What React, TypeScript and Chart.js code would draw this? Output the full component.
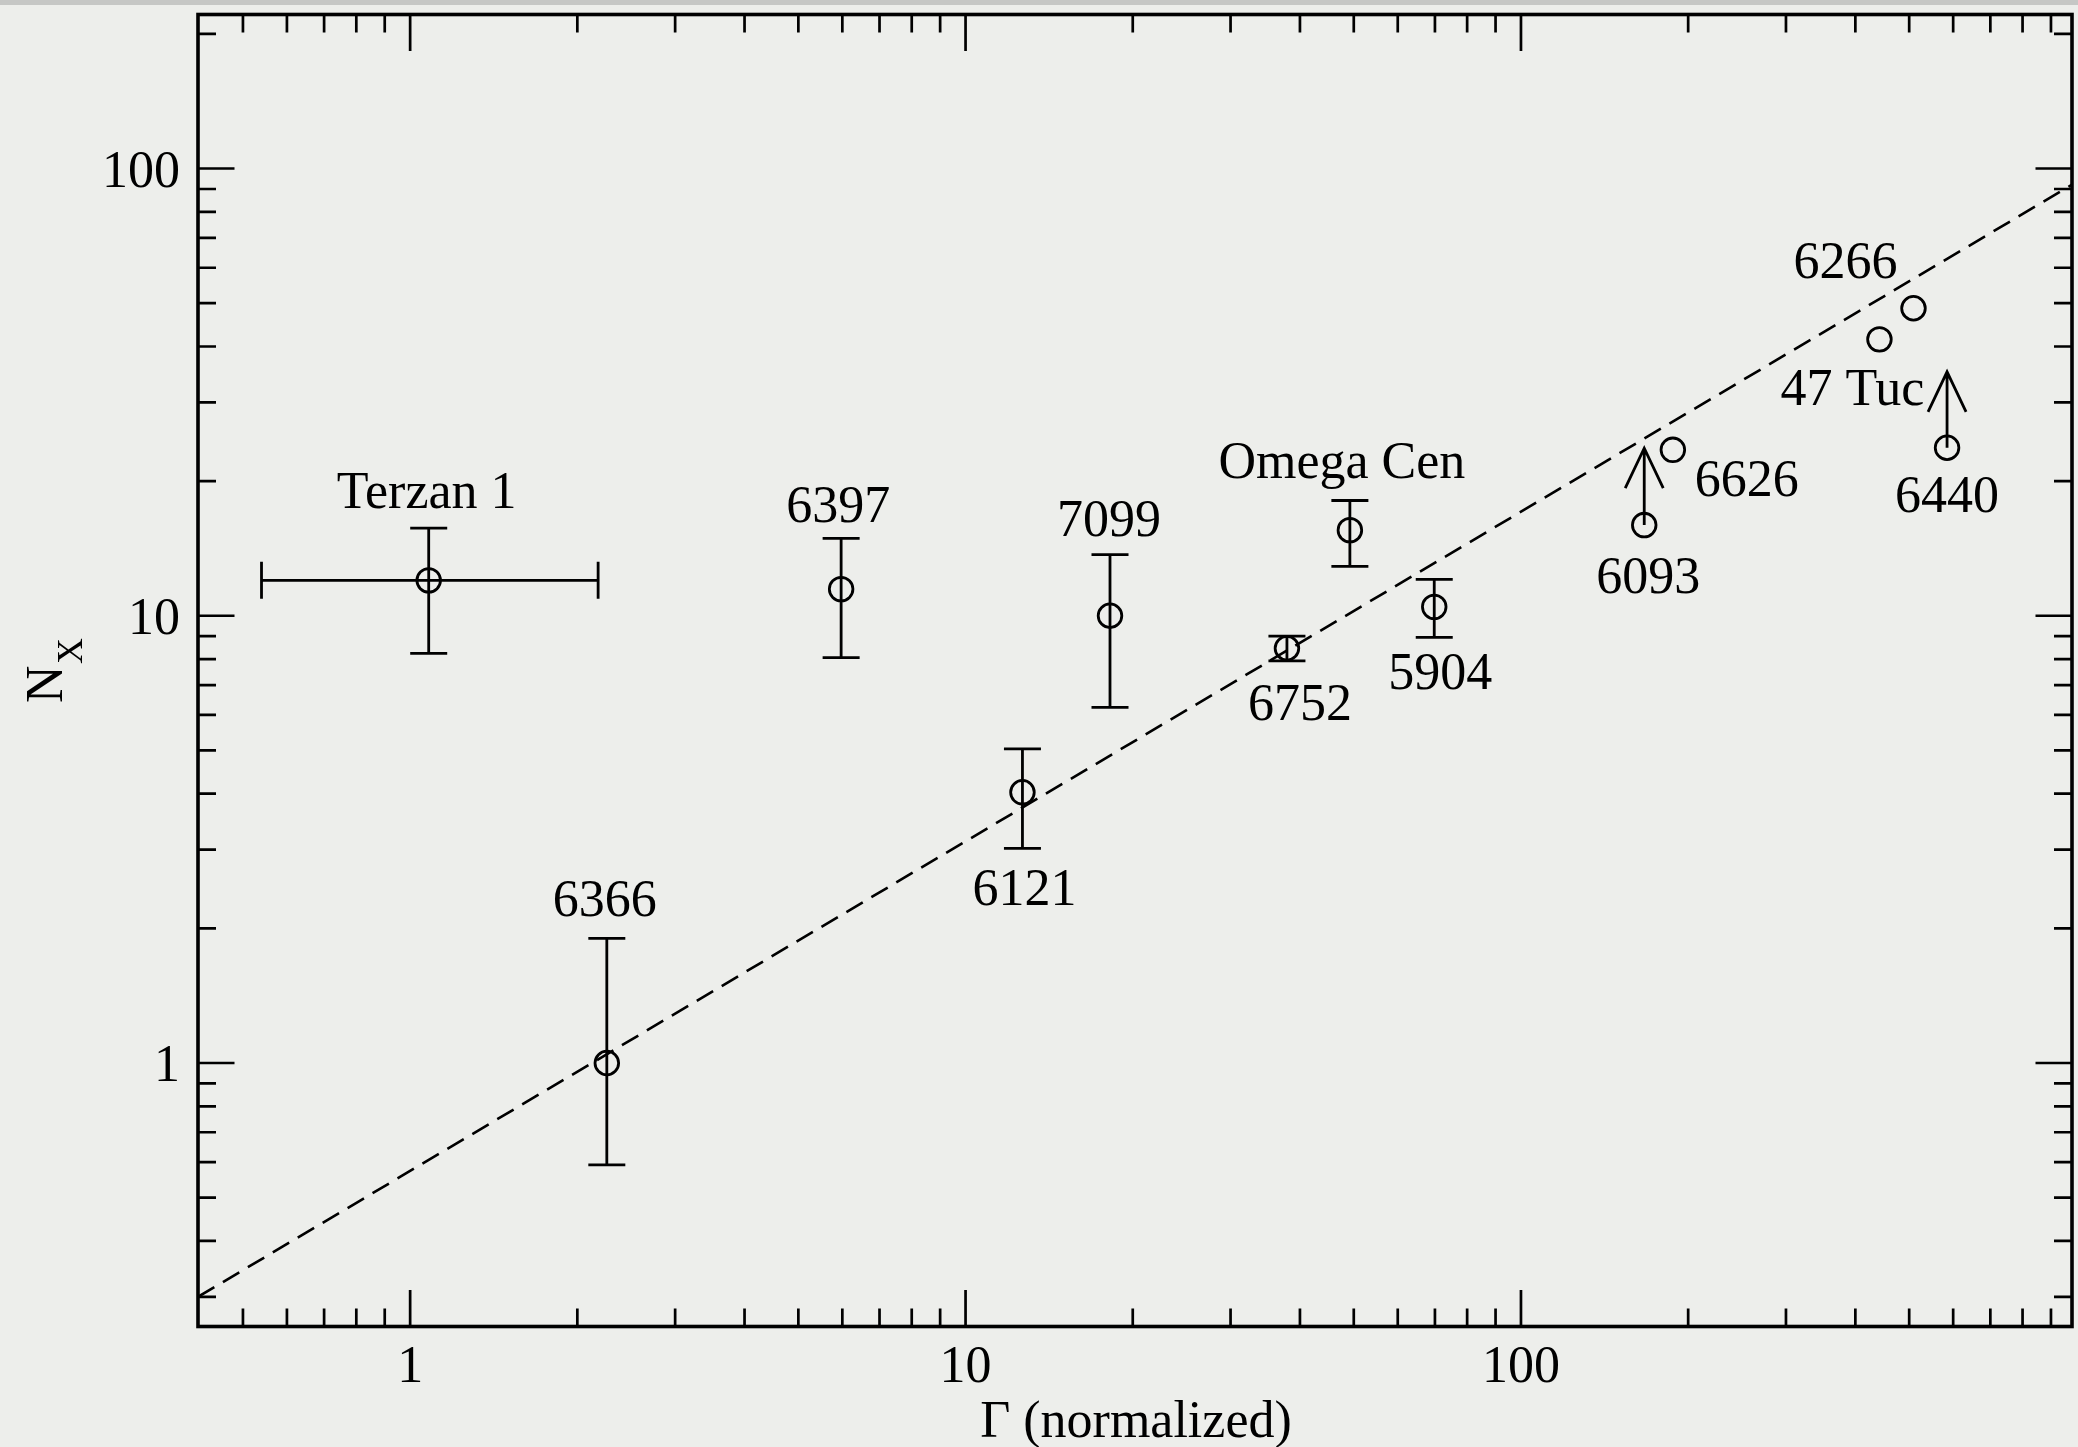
import React, { useEffect, useRef } from 'react';
import { Chart, registerables } from 'chart.js';

Chart.register(...registerables);

// ---------------- data ----------------
const clusterNames = ['Terzan 1', '6366', '6397', '6121', '7099', '6752', 'Omega Cen', '5904', '6093', '6626', '47 Tuc', '6266', '6440'];
const gammaValues = [1.08, 2.26, 5.97, 12.66, 18.2, 37.9, 49.2, 69.8, 166.7, 187.7, 442, 509, 585];
const nxValues = [12.0, 1.0, 11.47, 4.03, 10.0, 8.46, 15.54, 10.47, 15.95, 23.5, 41.5, 48.7, 23.75];
const nxLow = [8.24, 0.592, 8.06, 3.02, 6.24, 7.93, 12.9, 8.95, null, null, null, null, null];
const nxHigh = [15.7, 1.9, 14.9, 5.04, 13.7, 9.0, 18.1, 12.06, null, null, null, null, null];
const gammaLow = [0.54, null, null, null, null, null, null, null, null, null, null, null, null];
const gammaHigh = [2.18, null, null, null, null, null, null, null, null, null, null, null, null];
const lowerLimitTo = [null, null, null, null, null, null, null, null, 23.7, null, null, null, 35.1];

const fitGamma = [0.415, 982];
const fitNx = [0.3, 92];

const xMajorTicks = [1, 10, 100];
const xTickLabels = ['1', '10', '100'];
const yMajorTicks = [1, 10, 100];
const yTickLabels = ['1', '10', '100'];

const xTitle = 'Γ (normalized)';
const yTitleMain = 'N';
const yTitleSub = 'X';

// ---------------- styling / placement ----------------
const W = 2078;
const H = 1447;
const FONT = '"Liberation Serif", "Times New Roman", Times, serif';
const BG = '#edeeeb';
// label offsets (px) relative to the point: [dx, dyToBaseline]
const labelOffsets: [number, number][] = [
  [-2, -72], [-2, -147], [-3, -67], [2, 113], [-1, -80], [13, 72], [-8, -52],
  [6, 82], [4, 68], [74, 46], [-27, 66], [-68, -30], [0, 64],
];

const overlayPlugin = {
  id: 'overlay',
  beforeDraw(chart: any) {
    const ctx = chart.ctx as CanvasRenderingContext2D;
    ctx.save();
    ctx.fillStyle = BG;
    ctx.fillRect(0, 0, W, H);
    ctx.fillStyle = '#c6c7c5';
    ctx.fillRect(0, 0, W, 5);
    ctx.restore();
  },
  afterDatasetsDraw(chart: any) {
    const ctx = chart.ctx as CanvasRenderingContext2D;
    const xs = chart.scales.x;
    const ys = chart.scales.y;
    const { left, right, top, bottom } = chart.chartArea;
    ctx.save();
    ctx.strokeStyle = '#000';
    ctx.fillStyle = '#000';
    ctx.lineCap = 'butt';

    // error bars & limits
    ctx.lineWidth = 2.8;
    const cap = 18.5;
    for (let i = 0; i < clusterNames.length; i++) {
      const px = xs.getPixelForValue(gammaValues[i]);
      const py = ys.getPixelForValue(nxValues[i]);
      const lo = nxLow[i];
      const hi = nxHigh[i];
      if (lo != null && hi != null) {
        const y1 = ys.getPixelForValue(lo);
        const y2 = ys.getPixelForValue(hi);
        ctx.beginPath();
        ctx.moveTo(px, y1); ctx.lineTo(px, y2);
        ctx.moveTo(px - cap, y1); ctx.lineTo(px + cap, y1);
        ctx.moveTo(px - cap, y2); ctx.lineTo(px + cap, y2);
        ctx.stroke();
      }
      const gl = gammaLow[i];
      const gh = gammaHigh[i];
      if (gl != null && gh != null) {
        const x1 = xs.getPixelForValue(gl);
        const x2 = xs.getPixelForValue(gh);
        ctx.beginPath();
        ctx.moveTo(x1, py); ctx.lineTo(x2, py);
        ctx.moveTo(x1, py - cap); ctx.lineTo(x1, py + cap);
        ctx.moveTo(x2, py - cap); ctx.lineTo(x2, py + cap);
        ctx.stroke();
      }
      const lim = lowerLimitTo[i];
      if (lim != null) {
        const ty = ys.getPixelForValue(lim);
        ctx.beginPath();
        ctx.moveTo(px, py); ctx.lineTo(px, ty);
        ctx.moveTo(px - 19, ty + 40); ctx.lineTo(px, ty); ctx.lineTo(px + 19, ty + 40);
        ctx.stroke();
      }
    }

    // frame
    ctx.lineWidth = 3.6;
    ctx.strokeRect(left, top, right - left, bottom - top);

    // ticks (inward, mirrored on all sides)
    ctx.lineWidth = 2.7;
    const major = 36.5;
    const minor = 18;
    const xMin = xs.min, xMax = xs.max, yMin = ys.min, yMax = ys.max;
    ctx.beginPath();
    for (let e = -1; e <= 3; e++) {
      for (let m = 1; m <= 9; m++) {
        const v = m * Math.pow(10, e);
        if (v >= xMin && v <= xMax) {
          const p = xs.getPixelForValue(v);
          const len = m === 1 ? major : minor;
          ctx.moveTo(p, bottom); ctx.lineTo(p, bottom - len);
          ctx.moveTo(p, top); ctx.lineTo(p, top + len);
        }
        if (v >= yMin && v <= yMax) {
          const p = ys.getPixelForValue(v);
          const len = m === 1 ? major : minor;
          ctx.moveTo(left, p); ctx.lineTo(left + len, p);
          ctx.moveTo(right, p); ctx.lineTo(right - len, p);
        }
      }
    }
    ctx.stroke();

    // tick labels
    ctx.font = `52px ${FONT}`;
    ctx.textBaseline = 'alphabetic';
    ctx.textAlign = 'center';
    xMajorTicks.forEach((v, i) => {
      ctx.fillText(xTickLabels[i], xs.getPixelForValue(v), 1382);
    });
    ctx.textAlign = 'right';
    yMajorTicks.forEach((v, i) => {
      ctx.fillText(yTickLabels[i], 180, ys.getPixelForValue(v) + 18);
    });

    // point labels
    ctx.textAlign = 'center';
    for (let i = 0; i < clusterNames.length; i++) {
      const px = xs.getPixelForValue(gammaValues[i]);
      const py = ys.getPixelForValue(nxValues[i]);
      const [dx, dy] = labelOffsets[i];
      ctx.fillText(clusterNames[i], px + dx, py + dy);
    }

    // axis titles
    ctx.fillText(xTitle, (left + right) / 2 + 1, 1437);
    ctx.save();
    ctx.translate(62, 703);
    ctx.rotate(-Math.PI / 2);
    ctx.textAlign = 'left';
    ctx.font = `52px ${FONT}`;
    ctx.fillText(yTitleMain, 0, 0);
    ctx.font = `36px ${FONT}`;
    ctx.fillText(yTitleSub, 39, 20);
    ctx.restore();

    ctx.restore();
  },
};

export default function App() {
  const ref = useRef<HTMLCanvasElement>(null);
  useEffect(() => {
    const canvas = ref.current;
    if (!canvas) return;
    const chart = new Chart(canvas, {
      type: 'scatter',
      data: {
        datasets: [
          {
            type: 'line',
            label: 'fit',
            data: fitGamma.map((g, i) => ({ x: g, y: fitNx[i] })),
            borderColor: '#000',
            borderWidth: 2.6,
            borderDash: [19, 10],
            pointRadius: 0,
            fill: false,
            tension: 0,
          } as any,
          {
            label: 'clusters',
            data: gammaValues.map((g, i) => ({ x: g, y: nxValues[i] })),
            pointStyle: 'circle',
            pointRadius: 11.8,
            pointBorderWidth: 2.8,
            borderColor: '#000',
            pointBorderColor: '#000',
            backgroundColor: 'rgba(0,0,0,0)',
            pointBackgroundColor: 'rgba(0,0,0,0)',
            showLine: false,
          } as any,
        ],
      },
      options: {
        responsive: false,
        animation: false,
        devicePixelRatio: 1,
        events: [],
        layout: { autoPadding: false, padding: { top: 14.5, right: 6, left: 0, bottom: 0 } },
        plugins: { legend: { display: false }, tooltip: { enabled: false } },
        scales: {
          x: {
            type: 'logarithmic',
            min: 0.415,
            max: 982,
            ticks: { display: false },
            grid: { display: false },
            border: { display: false },
            afterFit: (s: any) => { s.height = 120.5; },
          },
          y: {
            type: 'logarithmic',
            min: 0.2575,
            max: 221,
            ticks: { display: false },
            grid: { display: false },
            border: { display: false },
            afterFit: (s: any) => { s.width = 198; },
          },
        },
      } as any,
      plugins: [overlayPlugin],
    });
    return () => chart.destroy();
  }, []);
  return (
    <div style={{ position: 'absolute', left: 0, top: 0, width: W, height: H, background: BG }}>
      <canvas ref={ref} width={W} height={H} style={{ display: 'block', width: W, height: H }} />
    </div>
  );
}
